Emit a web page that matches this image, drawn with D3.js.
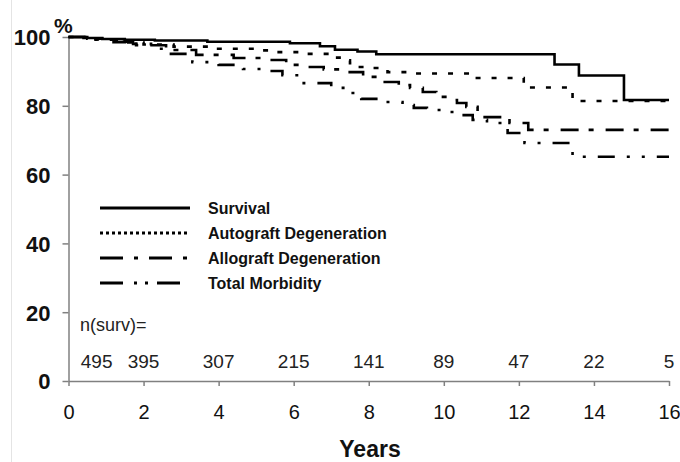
<!DOCTYPE html>
<html>
<head>
<meta charset="utf-8">
<script src="https://cdn.jsdelivr.net/npm/d3@7"></script>
<style>
  body { margin: 0; background: #fff; }
  svg { display: block; font-family: Arial, "Liberation Sans", sans-serif; }
</style>
</head>
<body>
<div id="chart"></div>
<script>
// data: [years, percent]
const yearTicks = [0, 2, 4, 6, 8, 10, 12, 14, 16];
const pctTicks = [0, 20, 40, 60, 80, 100];
const nSurv = [495, 395, 307, 215, 141, 89, 47, 22, 5];
const nSurvAt = [0.75, 2, 4, 6, 8, 10, 12, 14, 16];
const seriesNames = ["Survival", "Autograft Degeneration", "Allograft Degeneration", "Total Morbidity"];

const survival = [[0,100],[0.4,99.7],[0.9,99.4],[1.5,99.2],[2.3,99.0],[3.7,98.6],[5.9,98.2],
  [6.7,97.3],[7.1,96.3],[7.7,95.8],[8.2,95.0],[12.95,92.0],[13.6,88.8],[14.8,81.7],[16,81.7]];
const autograft = [[0,100],[0.5,99.5],[1,99.0],[1.5,98.4],[2,97.8],[2.8,97.2],[3.8,96.6],[5.0,96.1],
  [5.5,95.6],[6.2,95.1],[7.0,94.0],[7.3,93.2],[7.5,92.4],[7.7,91.3],[8.0,91.0],[8.5,89.8],
  [9.05,89.4],[10.77,88.1],[12.13,85.3],[13.43,81.4],[16,81.4]];
const allograft = [[0,100],[0.6,99.3],[1.2,98.5],[1.8,97.6],[2.6,96.2],[3.4,94.8],[4.4,93.9],
  [5.3,93.3],[5.8,91.9],[6.3,91.3],[6.8,90.6],[7.3,89.8],[7.85,88.4],[8.3,86.9],[8.8,86.0],
  [9.1,85.2],[9.44,84.0],[9.8,82.6],[10.1,81.7],[10.35,80.8],[10.6,79.7],[10.9,76.7],
  [11.75,75.0],[12.25,73.0],[16,73.0]];
const totalMorbidity = [[0,100],[0.6,99.2],[1.2,98.6],[1.72,98.0],[2.2,96.6],[2.6,95.1],[3.3,92.7],
  [3.74,92.2],[4.0,91.9],[4.65,90.7],[5.26,90.1],[5.7,88.9],[6.2,86.6],[7.0,85.2],[7.5,83.7],
  [7.8,82.0],[8.43,81.1],[8.9,80.2],[9.2,79.4],[9.55,78.8],[10.1,78.2],[10.43,77.3],[10.77,75.9],
  [11.15,75.0],[11.7,72.1],[12.15,69.2],[13.43,65.2],[16,65.2]];

const width = 680, height = 462;

const svg = d3.select("#chart").append("svg")
    .attr("width", width)
    .attr("height", height);

// scales
const x = d3.scaleLinear().domain([0, 16]).range([68.5, 669]);
const y = d3.scaleLinear().domain([0, 100]).range([381, 37]);

// faint left border of the scan
svg.append("line")
    .attr("x1", 11.5).attr("x2", 11.5)
    .attr("y1", 0).attr("y2", height)
    .attr("stroke", "#e4e4e4").attr("stroke-width", 1);

// Y axis
const yAxis = svg.append("g")
    .attr("transform", `translate(${x(0)},0)`)
    .call(d3.axisLeft(y).tickValues(pctTicks).tickSize(6).tickSizeOuter(0).tickPadding(12));
yAxis.selectAll("text")
    .attr("font-size", 22).attr("font-weight", "bold").attr("fill", "#111")
    .attr("dy", "0.36em");

// X axis
const xAxis = svg.append("g")
    .attr("transform", `translate(0,${y(0)})`)
    .call(d3.axisBottom(x).tickValues(yearTicks).tickSize(5).tickSizeOuter(0));
xAxis.selectAll("text")
    .attr("font-size", 20).attr("fill", "#111")
    .attr("y", 0).attr("dy", 38);

[yAxis, xAxis].forEach(a => {
    a.select(".domain").attr("stroke", "#808080").attr("stroke-width", 1.5);
    a.selectAll(".tick line").attr("stroke", "#808080").attr("stroke-width", 1.5);
});

// % sign
svg.append("text")
    .attr("x", 54).attr("y", 33)
    .attr("font-size", 21).attr("font-weight", "bold").attr("fill", "#111")
    .text("%");

// axis title
svg.append("text")
    .attr("x", 370).attr("y", 457)
    .attr("text-anchor", "middle")
    .attr("font-size", 23).attr("font-weight", "bold").attr("fill", "#111")
    .text("Years");

// number at risk
svg.append("text")
    .attr("x", 80).attr("y", 331)
    .attr("font-size", 18).attr("fill", "#222")
    .text("n(surv)=");

svg.append("g").selectAll("text")
    .data(nSurv)
    .join("text")
    .attr("x", (d, i) => x(nSurvAt[i]))
    .attr("y", 368)
    .attr("text-anchor", "middle")
    .attr("font-size", 19).attr("fill", "#222")
    .text(d => d);

// curves
const plotDash = ["none", "5,11", "18,10,5,12", "17,12,3,12,3,12"];
const legendDash = ["none", "3,3", "23,11,4,11", "23,11,3,8,3,9"];
const allSeries = [survival, autograft, allograft, totalMorbidity];

const line = d3.line()
    .x(d => x(d[0]))
    .y(d => y(d[1]))
    .curve(d3.curveStepAfter);

svg.append("g")
    .selectAll("path")
    .data(allSeries)
    .join("path")
    .attr("d", line)
    .attr("fill", "none")
    .attr("stroke", "#000")
    .attr("stroke-width", 2.6)
    .attr("stroke-dasharray", (d, i) => plotDash[i]);

// legend
const legend = svg.append("g")
    .selectAll("g")
    .data(seriesNames)
    .join("g")
    .attr("transform", (d, i) => `translate(100,${208 + i * 25})`);

legend.append("line")
    .attr("x1", 0).attr("x2", 90)
    .attr("stroke", "#000")
    .attr("stroke-width", 3)
    .attr("stroke-dasharray", (d, i) => legendDash[i]);

legend.append("text")
    .attr("x", 108).attr("y", 6)
    .attr("font-size", 16).attr("font-weight", "bold").attr("fill", "#111")
    .text(d => d);
</script>
</body>
</html>
